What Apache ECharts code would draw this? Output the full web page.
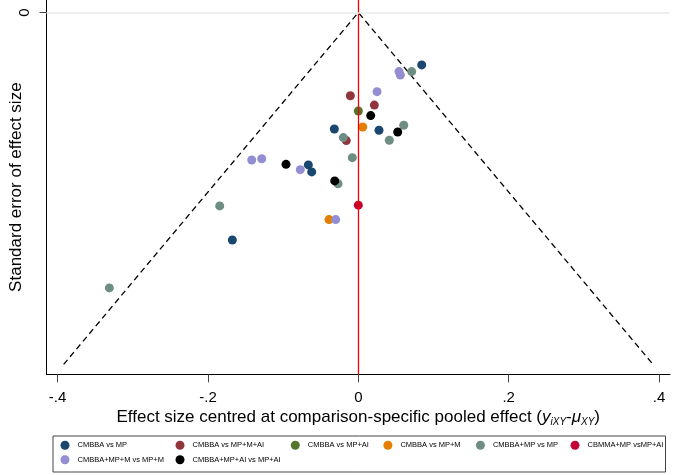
<!DOCTYPE html>
<html><head><meta charset="utf-8">
<script src="https://cdn.jsdelivr.net/npm/echarts@6/dist/echarts.min.js"></script>
<style>html,body{margin:0;padding:0;background:#fff}#c{width:675px;height:475px}</style>
</head><body><div id="c"></div>
<script>
const seriesNames = ['CMBBA vs MP','CMBBA vs MP+M+AI','CMBBA vs MP+AI','CMBBA vs MP+M','CMBBA+MP vs MP','CBMMA+MP vsMP+AI','CMBBA+MP+M vs MP+M','CMBBA+MP+AI vs MP+AI'];
const seriesColors = ['#1a476f','#90353b','#55752f','#e37e00','#6e8e84','#c10534','#938dd2','#000000'];
// points: [effect size centred, standard error]
const cmbbaVsMP = [[0.0843,0.0298],[-0.0319,0.0662],[0.0275,0.0669],[-0.0665,0.0866],[-0.0620,0.0906],[-0.1676,0.1293]];
const cmbbaVsMPMAI = [[-0.0106,0.0473],[0.0213,0.0526],[-0.0160,0.0728]];
const cmbbaVsMPAI = [[0.0,0.0560]];
const cmbbaVsMPM = [[0.0059,0.0651],[-0.0390,0.1177]];
const cmbbaMPVsMP = [[0.0710,0.0336],[0.0604,0.0641],[0.0412,0.0726],[-0.0200,0.0711],[-0.0080,0.0825],[-0.0270,0.0973],[-0.1844,0.1099],[-0.3312,0.1565]];
const cbmmaMPVsMPAI = [[0.0,0.1095]];
const cmbbaMPMVsMPM = [[0.0541,0.0336],[0.0559,0.0355],[0.0249,0.0450],[-0.1418,0.0838],[-0.1285,0.0831],[-0.0772,0.0893],[-0.0301,0.1177]];
const cmbbaMPAIVsMPAI = [[0.0165,0.0586],[0.0524,0.0679],[-0.0962,0.0863],[-0.0314,0.0957]];
const xTickValues = [-0.4,-0.2,0,0.2,0.4];
const xTickLabels = ['-.4','-.2','0','.2','.4'];
const yTickValues = [0];
const yTickLabels = ['0'];
const funnelMaxSE = 0.2;
const funnelZ = 1.96;

const allData = [cmbbaVsMP,cmbbaVsMPMAI,cmbbaVsMPAI,cmbbaVsMPM,cmbbaMPVsMP,cbmmaMPVsMPAI,cmbbaMPMVsMPM,cmbbaMPAIVsMPAI];
const FONT = 'Liberation Sans, Arial, sans-serif';

const chart = echarts.init(document.getElementById('c'), null, {renderer:'canvas'});

const series = [{
  type:'line', silent:true, symbol:'none', z:1,
  data:[[-funnelZ*funnelMaxSE, funnelMaxSE],[0,0],[funnelZ*funnelMaxSE, funnelMaxSE]],
  lineStyle:{color:'#000', width:1.3, type:[6,4]},
  markLine:{silent:true, symbol:'none', label:{show:false},
    data:[
      {xAxis:0, lineStyle:{color:'#ee0000', width:1.3, type:'solid'}},
      {yAxis:0, lineStyle:{color:'#e8eaea', width:1.6, type:'solid'}}
    ]}
}];
seriesNames.forEach((n,i)=>{
  series.push({type:'scatter', name:n, data:allData[i], symbol:'circle', symbolSize:9,
    itemStyle:{color:seriesColors[i], opacity:1}, z:3});
});

const legendPos = [[65,445.7],[180,445.7],[295.3,445.7],[387.9,445.7],[480.4,445.7],[575,445.7],[65,460.3],[180,460.3]];
const legends = seriesNames.map((n,i)=>({
  data:[n], left:legendPos[i][0]-4.5, top:legendPos[i][1]-5, padding:0,
  itemWidth:9, itemHeight:9, icon:'circle', selectedMode:false,
  textStyle:{fontFamily:FONT, fontSize:7.5, color:'#000', padding:[0,0,0,3]}
}));

chart.setOption({
  animation:false,
  backgroundColor:'#fff',
  grid:{left:46.5, right:5, top:0, bottom:100.7, containLabel:false, outerBoundsMode:'none'},
  xAxis:{type:'value', min:-0.4148, max:0.4146,
    axisLine:{show:true, onZero:false, lineStyle:{color:'#000', width:1}},
    axisTick:{show:true, length:8, customValues:xTickValues, lineStyle:{color:'#444'}},
    axisLabel:{show:true, customValues:xTickValues, margin:16, fontSize:15, fontFamily:FONT, color:'#000',
      formatter:(v)=>{const k=xTickValues.findIndex(t=>Math.abs(t-v)<1e-9); return k>=0?xTickLabels[k]:'';}},
    splitLine:{show:false},
    name:'Effect size centred at comparison-specific pooled effect ({i|y}{s|iXY}-{i|μ}{s|XY})',
    nameLocation:'middle', nameGap:33, nameMoveOverlap:false,
    nameTextStyle:{fontFamily:FONT, fontSize:17, color:'#000', lineHeight:20,
      rich:{i:{fontFamily:FONT, fontSize:17, fontStyle:'italic', lineHeight:20, color:'#000'},
            s:{fontFamily:FONT, fontSize:10, fontStyle:'italic', lineHeight:10, verticalAlign:'bottom', color:'#000'}}}
  },
  yAxis:{type:'value', inverse:true, min:-0.0071, max:0.2056,
    axisLine:{show:true, onZero:false, lineStyle:{color:'#000', width:1}},
    axisTick:{show:true, length:7, customValues:yTickValues, lineStyle:{color:'#444'}},
    axisLabel:{show:true, customValues:yTickValues, rotate:90, margin:14, fontSize:15, fontFamily:FONT, color:'#000',
      formatter:(v)=>{const k=yTickValues.findIndex(t=>Math.abs(t-v)<1e-9); return k>=0?yTickLabels[k]:'';}},
    splitLine:{show:false},
    name:'Standard error of effect size', nameLocation:'middle', nameGap:22, nameMoveOverlap:false,
    nameTextStyle:{fontFamily:FONT, fontSize:17, color:'#000'}
  },
  legend:legends,
  graphic:[{type:'rect', shape:{x:53, y:436, width:612.5, height:36}, style:{fill:'none', stroke:'#444', lineWidth:1}, z:0}],
  series:series
});
</script></body></html>
